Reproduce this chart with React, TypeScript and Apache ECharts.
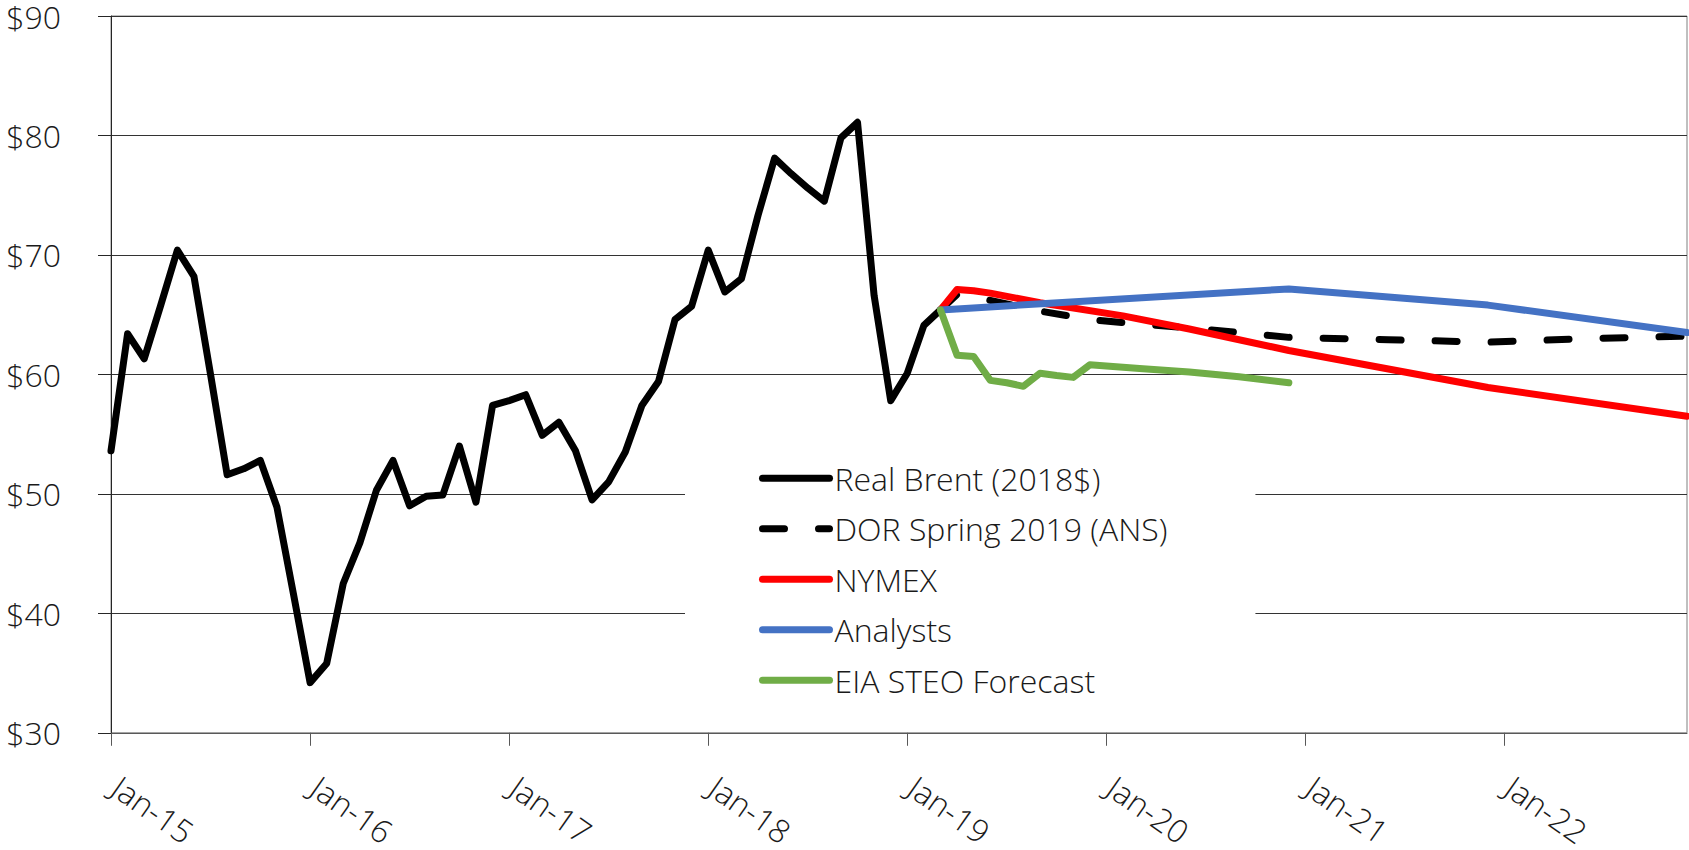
import React, { useEffect, useRef } from "react";
import * as echarts from "echarts";

// Month axis: Jan-15 through Dec-22
const monthNames = ["Jan", "Feb", "Mar", "Apr", "May", "Jun", "Jul", "Aug", "Sep", "Oct", "Nov", "Dec"];
const years = ["15", "16", "17", "18", "19", "20", "21", "22"];
const months: string[] = [];
years.forEach((y) => monthNames.forEach((m) => months.push(`${m}-${y}`)));

// Real Brent (2018$), monthly from Jan-15
const realBrent = [
  53.6, 63.4, 61.3, 65.8, 70.4, 68.2, 60.0, 51.6, 52.1, 52.8, 48.9, 41.6,
  34.2, 35.8, 42.5, 45.9, 50.3, 52.8, 49.0, 49.8, 49.9, 54.0, 49.3, 57.4,
  57.8, 58.3, 54.9, 56.0, 53.6, 49.5, 51.0, 53.5, 57.4, 59.4, 64.6, 65.7,
  70.4, 66.9, 68.0, 73.3, 78.1, 76.8, 75.6, 74.5, 79.8, 81.1, 66.6, 57.8,
  60.1, 64.1, 65.4,
];

// Forecast paths as [month, price]
const dorSpring2019: [string, number][] = [
  ["Mar-19", 65.4], ["Apr-19", 66.7], ["Jun-19", 66.2], ["Sep-19", 65.3],
  ["Dec-19", 64.6], ["Mar-20", 64.2], ["Jun-20", 63.9], ["Sep-20", 63.5],
  ["Dec-20", 63.1], ["Jun-21", 62.9], ["Dec-21", 62.7], ["Jun-22", 63.0],
  ["Dec-22", 63.2],
];

const nymex: [string, number][] = [
  ["Mar-19", 65.4], ["Apr-19", 67.1], ["May-19", 67.0], ["Jun-19", 66.8],
  ["Sep-19", 66.0], ["Feb-20", 64.9], ["Jun-20", 63.8], ["Dec-20", 62.0],
  ["Dec-21", 58.9], ["Dec-22", 56.5],
];

const analysts: [string, number][] = [
  ["Mar-19", 65.4], ["Dec-20", 67.15], ["Dec-21", 65.8], ["Dec-22", 63.5],
];

const eiaSteo: [string, number][] = [
  ["Mar-19", 65.4], ["Apr-19", 61.6], ["May-19", 61.5], ["Jun-19", 59.5],
  ["Jul-19", 59.3], ["Aug-19", 59.0], ["Sep-19", 60.1], ["Oct-19", 59.9],
  ["Nov-19", 59.75], ["Dec-19", 60.8], ["Mar-20", 60.5], ["Jun-20", 60.2],
  ["Sep-20", 59.8], ["Dec-20", 59.3],
];

const FONT = "'Open Sans', 'Noto Sans', sans-serif";
const TEXT = "#1a1a1a";

export default function App() {
  const ref = useRef<HTMLDivElement>(null);

  useEffect(() => {
    if (!ref.current) return;
    const chart = echarts.init(ref.current, undefined, { renderer: "svg" });

    const line = (name: string, data: any, color: string, extra: any = {}) => ({
      name,
      type: "line",
      data,
      showSymbol: false,
      symbol: "none",
      connectNulls: true,
      lineStyle: { color, width: 7, cap: "round", join: "round", ...extra },
      itemStyle: { color },
      emphasis: { disabled: true },
    });

    chart.setOption({
      animation: false,
      backgroundColor: "#ffffff",
      textStyle: { fontFamily: FONT, fontWeight: 300 },
      grid: {
        left: 111,
        right: 2,
        top: 16,
        bottom: 110,
        show: true,
        borderColor: "#808080",
        borderWidth: 1,
        backgroundColor: "transparent",
      },
      legend: {
        orient: "vertical",
        left: 685,
        top: 451,
        padding: [2, 88, 2, 74],
        backgroundColor: "#ffffff",
        itemWidth: 67,
        itemHeight: 7,
        itemGap: 0,
        lineStyle: { width: 7, cap: "round" },
        itemStyle: { opacity: 0 },
        textStyle: { fontFamily: FONT, fontWeight: 300, fontSize: 32, color: TEXT, lineHeight: 50.5 },
        data: ["Real Brent (2018$)", "DOR Spring 2019 (ANS)", "NYMEX", "Analysts", "EIA STEO Forecast"],
      },
      xAxis: {
        type: "category",
        data: months,
        boundaryGap: false,
        axisLine: { lineStyle: { color: "#595959", width: 1 } },
        axisTick: {
          show: true,
          length: 13,
          interval: (i: number) => i % 12 === 0,
          lineStyle: { color: "#595959" },
        },
        axisLabel: {
          interval: (i: number) => i % 12 === 0,
          rotate: -35,
          margin: 47,
          padding: [0, 0, 0, 6],
          fontFamily: FONT,
          fontWeight: 300,
          fontSize: 32,
          lineHeight: 30,
          color: TEXT,
        },
        splitLine: { show: false },
      },
      yAxis: {
        type: "value",
        min: 30,
        max: 90,
        interval: 10,
        axisLine: { show: true, lineStyle: { color: "#262626", width: 1 } },
        axisTick: { show: true, length: 13, lineStyle: { color: "#262626" } },
        axisLabel: {
          margin: 50,
          formatter: (v: number) => "$" + v,
          fontFamily: FONT,
          fontWeight: 300,
          fontSize: 32,
          lineHeight: 30,
          color: TEXT,
        },
        splitLine: { show: true, lineStyle: { color: "#333333", width: 1 } },
      },
      series: [
        line("Real Brent (2018$)", realBrent, "#000000"),
        line("DOR Spring 2019 (ANS)", dorSpring2019, "#000000", { type: [22, 34] }),
        line("NYMEX", nymex, "#ff0000"),
        line("Analysts", analysts, "#4472c4"),
        line("EIA STEO Forecast", eiaSteo, "#70ad47"),
      ],
    });

    return () => chart.dispose();
  }, []);

  return (
    <div
      ref={ref}
      style={{ position: "fixed", left: 0, top: 0, width: 1689, height: 850 }}
    />
  );
}
